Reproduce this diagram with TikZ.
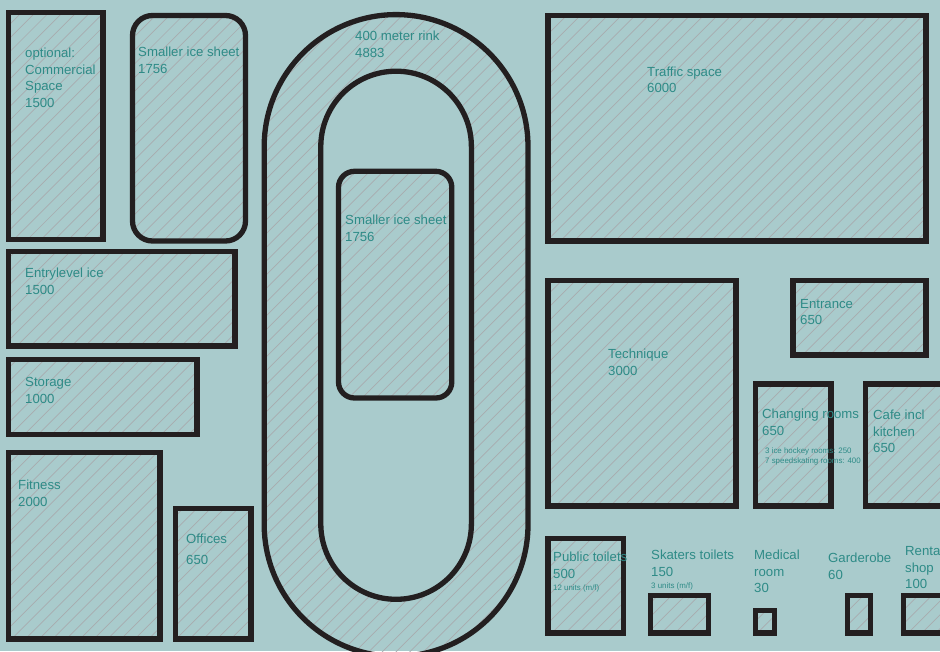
\documentclass[tikz,border=0pt]{standalone}
\usepackage{fontspec}
\setmainfont{Liberation Sans}
\definecolor{planbg}{HTML}{A9CBCC}
\definecolor{planline}{HTML}{231F20}
\definecolor{plantext}{HTML}{2E8B87}
\definecolor{planhatch}{HTML}{A8ABAE}
\tikzset{
  room/.style={draw=planline, line width=5.3pt, path picture={
    \foreach \c in {6.7,20.4,...,1600} \draw[planhatch, line width=0.7pt] (\c,0) -- (\c-660,660);
  }},
  infield/.style={draw=planline, line width=5.3pt, fill=planbg},
  lbl/.style={anchor=north west, inner sep=0pt, text=plantext, align=left, font=\fontsize{13.2}{16.6}\selectfont},
  sublbl/.style={anchor=north west, inner sep=0pt, text=plantext, align=left, font=\fontsize{7.9}{9.6}\selectfont}
}
\begin{document}
\begin{tikzpicture}[x=1pt, y=-1pt]
  \useasboundingbox (0,0) rectangle (940,651);
  \fill[planbg] (0,0) rectangle (940,651);
  % left column
  \draw[room] (8.3,12.7) rectangle (103,239.5);
  \draw[room, rounded corners=20pt] (132.5,15.5) rectangle (245.5,241);
  \draw[room] (8.3,251.5) rectangle (235,346);
  \draw[room] (8.3,359.5) rectangle (197,434.5);
  \draw[room] (8.3,452.5) rectangle (160,639);
  \draw[room] (175.5,508.5) rectangle (251,639);
  % rink
  \draw[room] (264.2,146.5) arc[start angle=180, end angle=360, radius=131.9] -- (528,524.5) arc[start angle=0, end angle=180, radius=131.9] -- cycle;
  \draw[infield] (320.8,146.5) arc[start angle=180, end angle=360, radius=75.3] -- (471.4,524) arc[start angle=0, end angle=180, radius=75.3] -- cycle;
  \draw[room, rounded corners=16pt] (338.5,171.3) rectangle (451.8,398);
  % right block
  \draw[room] (548,15.5) rectangle (926,241);
  \draw[room] (548,280.5) rectangle (736,506);
  \draw[room] (793,280.5) rectangle (926,355);
  \draw[room] (755.5,384) rectangle (831,506);
  \draw[room] (865.5,384) rectangle (950,506);
  % small rooms
  \draw[room] (548,538.4) rectangle (623.5,633);
  \draw[room] (650.5,595.3) rectangle (708.5,633);
  \draw[room] (755.5,610.3) rectangle (774.5,633);
  \draw[room] (847.5,595.3) rectangle (870.5,633);
  \draw[room] (903.3,595.3) rectangle (950,633);
  % labels
  \node[lbl] (optional) at (25,48) {optional:\\Commercial\\Space\\1500};
  \node[lbl] (sheetleft) at (138,47) {Smaller ice sheet\\1756};
  \node[lbl] (entrylevel) at (25,268) {Entrylevel ice\\1500};
  \node[lbl] (storage) at (25,377) {Storage\\1000};
  \node[lbl] (fitness) at (18,480) {Fitness\\2000};
  \node[lbl] (offices) at (186,534) {Offices};
  \node[lbl] (officesnum) at (186,555) {650};
  \node[lbl] (rink) at (355,31) {400 meter rink\\4883};
  \node[lbl] (sheetmid) at (345,215) {Smaller ice sheet\\1756};
  \node[lbl] (traffic) at (647,66.5) {Traffic space\\6000};
  \node[lbl] (technique) at (608,349) {Technique\\3000};
  \node[lbl] (entrance) at (800,299) {Entrance\\650};
  \node[lbl] (changing) at (762,409) {Changing rooms\\650};
  \node[sublbl] (changingsub) at (765,448) {3 ice hockey rooms: 250\\7 speedskating rooms: 400};
  \node[lbl] (cafe) at (873,410) {Cafe incl\\kitchen\\650};
  \node[lbl] (public) at (553,552) {Public toilets\\500};
  \node[sublbl] (publicsub) at (553,585) {12 units (m/f)};
  \node[lbl] (skaters) at (651,550) {Skaters toilets\\150};
  \node[sublbl] (skaterssub) at (651,583) {3 units (m/f)};
  \node[lbl] (medical) at (754,550) {Medical\\room\\30};
  \node[lbl] (garderobe) at (828,553) {Garderobe\\60};
  \node[lbl] (rental) at (905,546) {Rental\\shop\\100};
\end{tikzpicture}
\end{document}
